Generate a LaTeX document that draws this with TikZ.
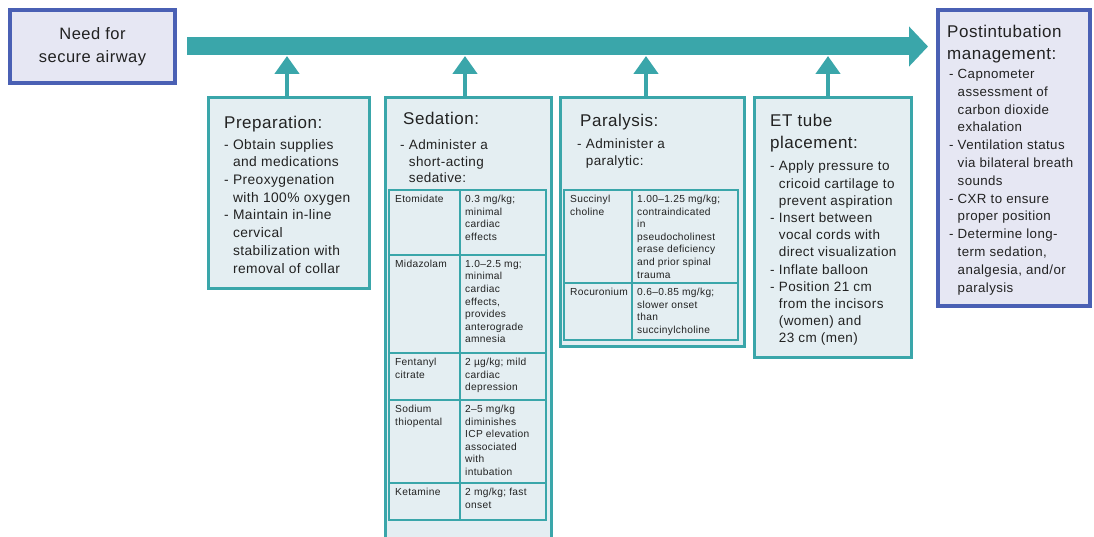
\documentclass[tikz,border=0pt]{standalone}
\usepackage{fontspec}
\setmainfont{Liberation Sans}[LetterSpace=3]
\usetikzlibrary{arrows.meta}

\definecolor{tealline}{HTML}{3AA6AA}
\definecolor{tealfill}{HTML}{E4EEF2}
\definecolor{navyline}{HTML}{4A60B4}
\definecolor{lavfill}{HTML}{E6E7F3}
\definecolor{ink}{HTML}{222222}

\newcommand\fsz[2]{\fontsize{#1}{#2}\selectfont}
\newcommand\ind{\hphantom{-\ }}

% one table row: name, x-left, x-column, x-right, y-top, y-bottom, left text, right text
\newcommand\tabrow[8]{%
  \draw[cellline] (#2,#5) rectangle (#3,#6) rectangle (#4,#5);
  \node[cell] (#1a) at ([shift={(6,5)}]#2,#5) {#7};
  \node[cell] (#1b) at ([shift={(5,5)}]#3,#5) {#8};
}

\tikzset{
  tealbox/.style={draw=tealline, line width=3pt, fill=tealfill, anchor=north west,
    inner sep=0pt, outer sep=0pt},
  bluebox/.style={draw=navyline, line width=4pt, fill=lavfill, anchor=north west,
    inner sep=0pt, outer sep=0pt},
  cellline/.style={draw=tealline, line width=2.2pt},
  txt/.style={anchor=north west, inner sep=0pt, align=left, text=ink},
  titletxt/.style={txt, font=\fsz{17}{22}},
  bodytxt/.style={txt, font=\fsz{13.5}{17.2}},
  cell/.style={txt, font=\fsz{10.2}{12.6}},
  mainarrow/.style={draw=tealline, line width=18pt, -{Triangle[width=39pt,length=19pt]}},
  uparrow/.style={draw=tealline, line width=4.5pt, -{Triangle[width=24pt,length=18pt]}},
}

\begin{document}
\begin{tikzpicture}[x=1pt,y=-1pt]
\useasboundingbox (0,0) rectangle (1094,537);
\fill[white] (0,0) rectangle (1094,537);

% start and end boxes
\node[bluebox, minimum width=165pt, minimum height=73pt, align=center,
  font=\fsz{16.5}{23}, text=ink] (need) at (10,10) {Need for\\secure airway};
\node[bluebox, minimum width=152pt, minimum height=296pt] (post) at (938,10) {};

% step boxes
\node[tealbox, minimum width=161pt, minimum height=190pt] (prep) at (208,98) {};
\node[tealbox, minimum width=166pt, minimum height=460pt] (sed) at (385,98) {};
\node[tealbox, minimum width=184pt, minimum height=248pt] (par) at (560,98) {};
\node[tealbox, minimum width=157pt, minimum height=259pt] (ett) at (754,98) {};

% main flow arrow
\draw[mainarrow, shorten <=12pt, shorten >=10pt] (need.east) -- (need.east -| post.west);

% feeder arrows
\coordinate (j1) at (287,56);
\coordinate (j2) at (465,56);
\coordinate (j3) at (646,56);
\coordinate (j4) at (828,56);
\draw[uparrow] (prep.north -| j1) -- (j1);
\draw[uparrow] (sed.north -| j2) -- (j2);
\draw[uparrow] (par.north -| j3) -- (j3);
\draw[uparrow] (ett.north -| j4) -- (j4);

% preparation
\node[titletxt] (preptitle) at (224,116) {Preparation:};
\node[bodytxt, font=\fsz{13.8}{17.7}] (prepbody) at (224,139) {- Obtain supplies\\\ind and medications\\- Preoxygenation\\\ind with 100\% oxygen\\- Maintain in-line\\\ind cervical\\\ind stabilization with\\\ind removal of collar};

% sedation
\node[titletxt] (sedtitle) at (403,112) {Sedation:};
\node[bodytxt, font=\fsz{13.5}{16.3}] (sedbody) at (400,140) {- Administer a\\\ind short-acting\\\ind sedative:};
\tabrow{eto}{389}{460}{546}{190}{255}{Etomidate}{0.3 mg/kg;\\minimal\\cardiac\\effects}
\tabrow{mid}{389}{460}{546}{255}{353}{Midazolam}{1.0–2.5 mg;\\minimal\\cardiac\\effects,\\provides\\anterograde\\amnesia}
\tabrow{fen}{389}{460}{546}{353}{400}{Fentanyl\\citrate}{2 µg/kg; mild\\cardiac\\depression}
\tabrow{sod}{389}{460}{546}{400}{483}{Sodium\\thiopental}{2–5 mg/kg\\diminishes\\ICP elevation\\associated\\with\\intubation}
\tabrow{ket}{389}{460}{546}{483}{520}{Ketamine}{2 mg/kg; fast\\onset}

% paralysis
\node[titletxt] (partitle) at (580,114) {Paralysis:};
\node[bodytxt, font=\fsz{13.5}{16.5}] (parbody) at (577,139) {- Administer a\\\ind paralytic:};
\tabrow{suc}{564}{632}{738}{190}{283}{Succinyl\\choline}{1.00–1.25 mg/kg;\\contraindicated\\in\\pseudocholinest\\erase deficiency\\and prior spinal\\trauma}
\tabrow{roc}{564}{632}{738}{283}{340}{Rocuronium}{0.6–0.85 mg/kg;\\slower onset\\than\\succinylcholine}

% tube placement
\node[titletxt] (etttitle) at (770,114) {ET tube\\placement:};
\node[bodytxt] (ettbody) at (770,161) {- Apply pressure to\\\ind cricoid cartilage to\\\ind prevent aspiration\\- Insert between\\\ind vocal cords with\\\ind direct visualization\\- Inflate balloon\\- Position 21 cm\\\ind from the incisors\\\ind (women) and\\\ind 23 cm (men)};

% after intubation
\node[titletxt, font=\fsz{17}{21.5}] (posttitle) at (947,25) {Postintubation\\management:};
\node[bodytxt, font=\fsz{13.3}{17.8}] (postbody) at (949,69) {- Capnometer\\\ind assessment of\\\ind carbon dioxide\\\ind exhalation\\- Ventilation status\\\ind via bilateral breath\\\ind sounds\\- CXR to ensure\\\ind proper position\\- Determine long-\\\ind term sedation,\\\ind analgesia, and/or\\\ind paralysis};
\end{tikzpicture}
\end{document}
